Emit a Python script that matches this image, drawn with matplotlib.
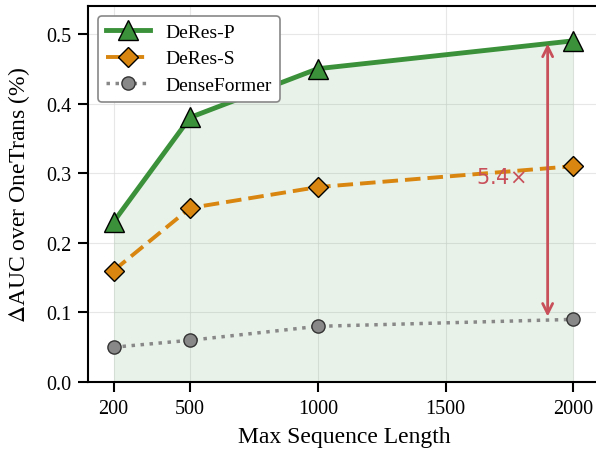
import matplotlib.pyplot as plt

plt.rcParams['font.family'] = ['Liberation Serif', 'DejaVu Serif']
plt.rcParams['mathtext.fontset'] = 'stix'

# data
seq_len = [200, 500, 1000, 2000]
deres_p = [0.23, 0.38, 0.45, 0.49]
deres_s = [0.16, 0.25, 0.28, 0.31]
denseformer = [0.05, 0.06, 0.08, 0.09]
x_ticks = [200, 500, 1000, 1500, 2000]

green = '#3a913a'
orange = '#d8860f'
gray = '#888888'
red = '#c8505a'

fig = plt.figure(figsize=(5.96, 4.56), dpi=100)
ax = fig.add_axes([0.1477, 0.160, 0.8590, 0.8246])

# shaded region under DeRes-P
ax.fill_between(seq_len, 0, deres_p, color=green, alpha=0.11, linewidth=0, zorder=1)

ax.plot(seq_len, deres_p, color=green, lw=3.5, marker='^', ms=14,
        markerfacecolor=green, markeredgecolor='black', markeredgewidth=1.0,
        label='DeRes-P', zorder=4)
ax.plot(seq_len, deres_s, color=orange, lw=2.8, ls=(0, (4, 1.8)), marker='D', ms=10.5,
        markerfacecolor=orange, markeredgecolor='black', markeredgewidth=1.0,
        label='DeRes-S', zorder=4)
ax.plot(seq_len, denseformer, color=gray, lw=2.5, ls=(0, (1, 1.6)), marker='o', ms=9.5,
        markerfacecolor=gray, markeredgecolor='#333333', markeredgewidth=1.0,
        label='DenseFormer', zorder=4)

# gap annotation
ax.annotate('', xy=(1900, denseformer[-1]), xytext=(1900, deres_p[-1]),
            arrowprops=dict(arrowstyle='<->', color=red, lw=2.0, mutation_scale=18),
            zorder=5)
ax.text(1718, 0.294, '5.4$\\times$', color=red, fontsize=15, ha='center', va='center',
        family='DejaVu Sans', math_fontfamily='dejavusans', zorder=5)

ax.set_xlim(100, 2105)
ax.set_ylim(0, 0.54)
ax.set_xticks(x_ticks)
ax.set_yticks([0.0, 0.1, 0.2, 0.3, 0.4, 0.5])
ax.set_yticklabels(['0.0', '0.1', '0.2', '0.3', '0.4', '0.5'])
ax.tick_params(labelsize=14.5, length=7, width=1.5, pad=5)
ax.grid(True, color='#dddddd', lw=0.8, alpha=0.7, zorder=0)
ax.set_axisbelow(True)
for s in ax.spines.values():
    s.set_linewidth(1.5)

ax.set_xlabel('Max Sequence Length', fontsize=17, labelpad=6)
ax.set_ylabel('$\\Delta$AUC over OneTrans (%)', fontsize=17, labelpad=10)

leg = ax.legend(loc='upper left', fontsize=14, frameon=True, fancybox=True,
                edgecolor='#888888', framealpha=1.0, handlelength=2.3,
                borderpad=0.4, labelspacing=0.45)
leg.get_frame().set_linewidth(1.2)

fig.savefig('out.png', dpi=100)
